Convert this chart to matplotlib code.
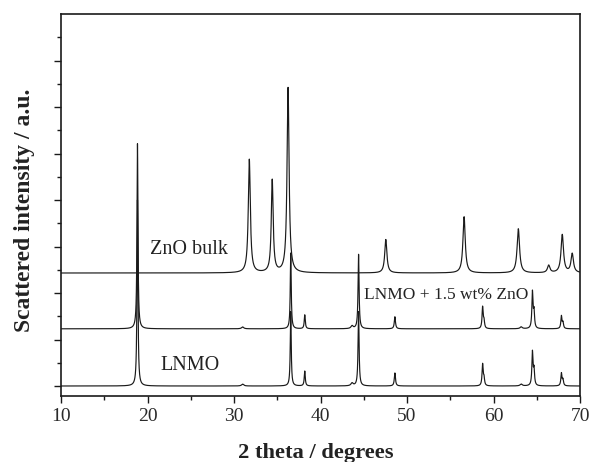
import numpy as np
import matplotlib
matplotlib.use("Agg")
import matplotlib.pyplot as plt

# ---- data (peak position [deg], height [a.u.], FWHM [deg]) ----
lnmo_pos = [18.84, 31.0, 36.56, 38.18, 43.65, 44.40, 48.60,
            58.74, 58.90, 63.2, 64.50, 64.68, 67.85, 68.03]
lnmo_h = [4.0, 0.04, 1.6, 0.32, 0.06, 1.6, 0.28,
          0.46, 0.16, 0.04, 0.72, 0.34, 0.27, 0.13]
lnmo_w = [0.13, 0.3, 0.13, 0.14, 0.3, 0.14, 0.16,
          0.15, 0.15, 0.3, 0.15, 0.15, 0.15, 0.15]

mix_h = [3.98, 0.04, 1.63, 0.30, 0.06, 1.6, 0.26,
         0.46, 0.16, 0.04, 0.78, 0.36, 0.27, 0.13]

zno_pos = [31.77, 34.42, 36.25, 47.55, 56.6, 62.87, 66.38, 67.95, 69.1]
zno_h = [2.44, 1.99, 3.98, 0.72, 1.21, 0.95, 0.16, 0.82, 0.41]
zno_w = [0.28, 0.26, 0.28, 0.30, 0.32, 0.34, 0.34, 0.34, 0.34]

offsets = [0.0, 1.23, 2.43]          # baselines: LNMO, LNMO+ZnO, ZnO bulk
labels = ["LNMO", "LNMO + 1.5 wt% ZnO", "ZnO bulk"]
label_xy = [(21.45, 0.44), (45.0, 1.96), (20.3, 2.93)]
label_size = [14.5, 12.5, 14.5]

x_ticks = [10, 20, 30, 40, 50, 60, 70]


def profile(x, pos, h, w):
    y = np.zeros_like(x)
    for p, a, f in zip(pos, h, w):
        g = f / 2.0
        y += a * g**2 / ((x - p)**2 + g**2)
    return y


x = np.linspace(10, 70, 12001)
curves = [profile(x, lnmo_pos, lnmo_h, lnmo_w),
          profile(x, lnmo_pos, mix_h, lnmo_w),
          profile(x, zno_pos, zno_h, zno_w)]

plt.rcParams['font.family'] = ['Liberation Serif', 'DejaVu Serif']

fig = plt.figure(figsize=(5.92, 4.62), dpi=100)
ax = fig.add_axes([61/592, 1-396/462, (580-61)/592, (396-14)/462])

col = '#1a1a1a'
for c, off in zip(curves, offsets):
    ax.plot(x, c + off, color=col, lw=0.85)

for t, (tx, ty), fs in zip(labels, label_xy, label_size):
    ax.text(tx, ty, t, fontsize=fs, color='#222222', va='center', ha='left')

ax.set_xlim(10, 70)
ax.set_ylim(-0.215, 8.0)
ax.set_xticks(x_ticks)
ax.set_xticks(np.arange(15, 70, 10), minor=True)
ax.set_yticks(np.arange(0, 8, 1))
ax.set_yticks(np.arange(0.5, 8, 1), minor=True)
ax.set_yticklabels([])
ax.tick_params(axis='both', which='major', direction='out', length=5, width=1.0,
               colors=col, labelsize=14, labelcolor='#2a2a2a')
ax.tick_params(axis='both', which='minor', direction='out', length=3, width=1.0, colors=col)
ax.tick_params(top=False, right=False)
for s in ax.spines.values():
    s.set_linewidth(1.2)
    s.set_color(col)

ax.set_xlabel("2 theta / degrees", fontsize=16.2, fontweight='bold', color='#222222')
ax.xaxis.set_label_coords(0.49, -0.122)
ax.set_ylabel("Scattered intensity / a.u.", fontsize=17, fontweight='bold', color='#222222')
ax.yaxis.set_label_coords(-0.05, 0.487)

fig.savefig("out.png", dpi=100)
